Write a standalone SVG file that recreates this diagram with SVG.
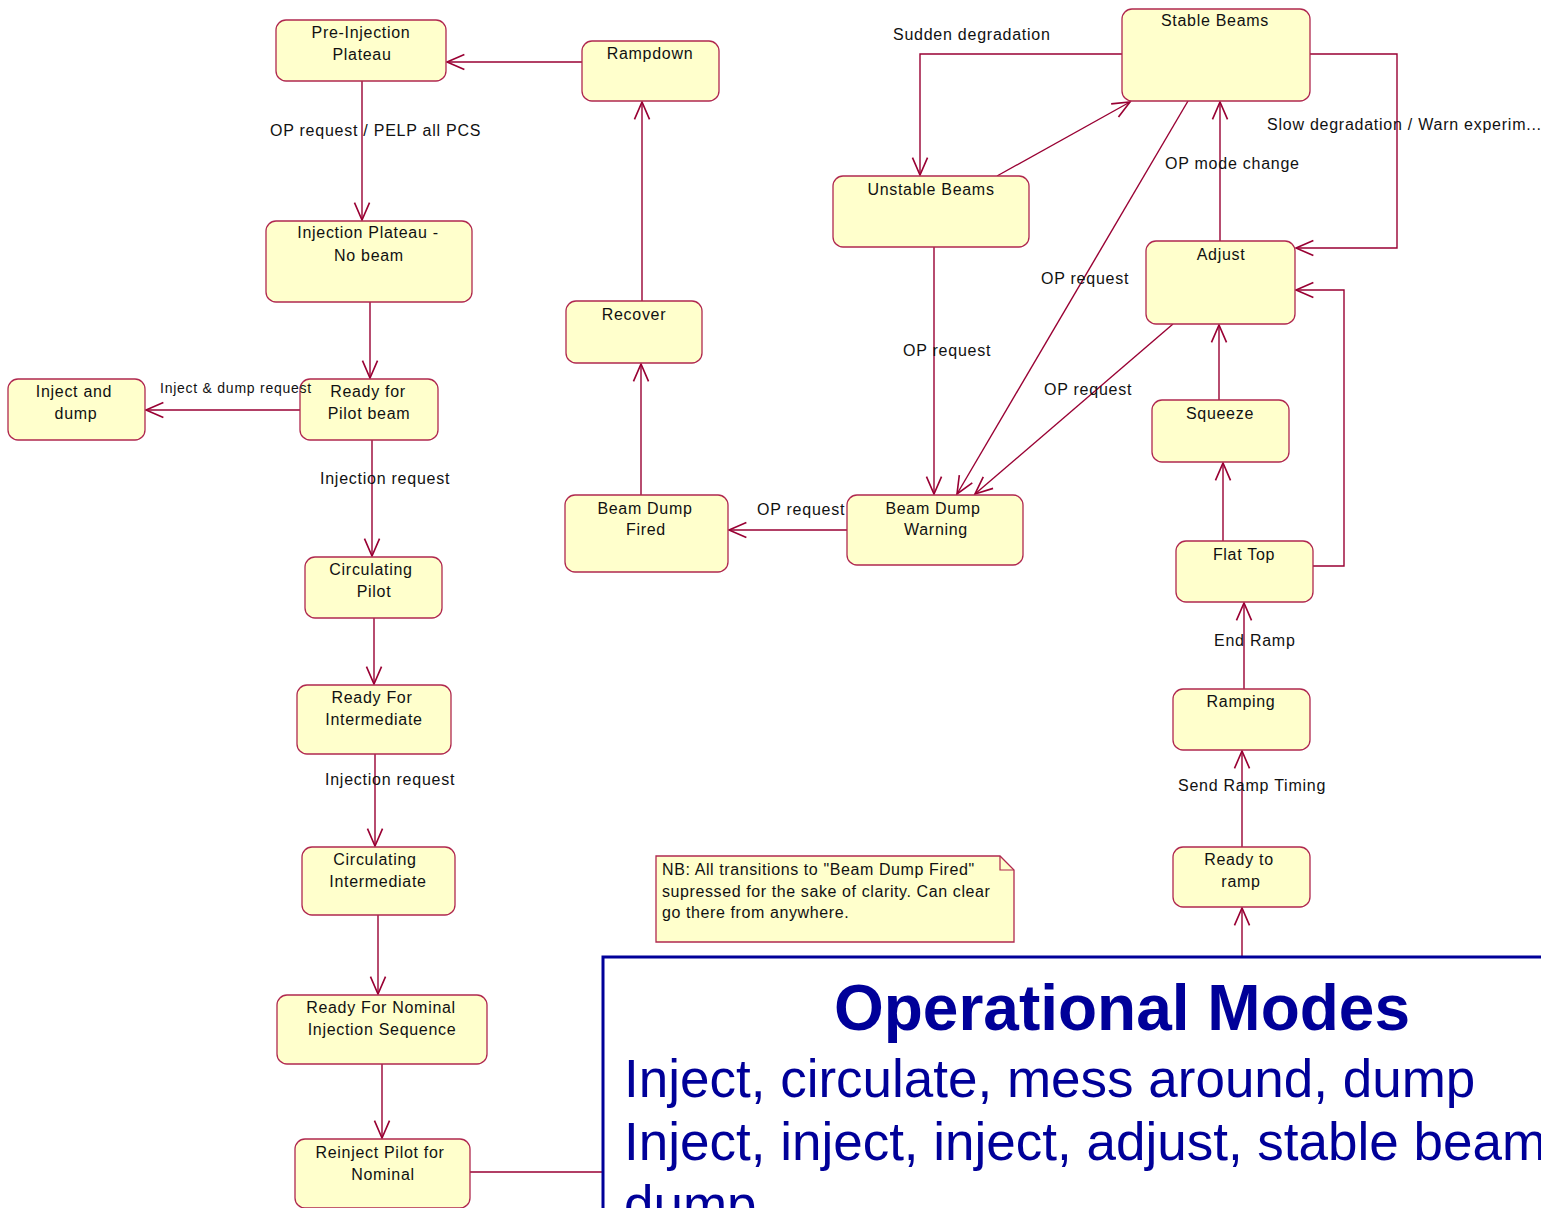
<svg xmlns="http://www.w3.org/2000/svg" width="1541" height="1208" viewBox="0 0 1541 1208">
<style>
.n rect{fill:#ffffcc;stroke:#b0284f;stroke-width:1.3}
.n text{font-family:"Liberation Sans",Arial,sans-serif;font-size:16px;fill:#111;text-anchor:middle;letter-spacing:0.7px}
.c path{fill:none;stroke:#990033;stroke-width:1.4}
.lb{font-family:"Liberation Sans",Arial,sans-serif;font-size:16px;fill:#111;letter-spacing:0.75px}
.sm{font-size:14px;letter-spacing:0.75px}
.note text{font-family:"Liberation Sans",Arial,sans-serif;font-size:16px;fill:#111;letter-spacing:0.6px}
.blue{font-family:"Liberation Sans",Arial,sans-serif;fill:#000099}
</style>
<defs>
<marker id="a" markerUnits="userSpaceOnUse" markerWidth="22" markerHeight="22" viewBox="-17 -9 19 18" refX="0" refY="0" orient="auto">
<path d="M-15,-6.5 L0,0 L-15,6.5" fill="none" stroke="#990033" stroke-width="1.4"/>
</marker>
</defs>
<rect width="1541" height="1208" fill="#ffffff"/>

<g id="connectors" class="c">
<path d="M582,62 H447" marker-end="url(#a)"/>
<path d="M362,81 V220" marker-end="url(#a)"/>
<path d="M370,302 V378" marker-end="url(#a)"/>
<path d="M300,410 H146" marker-end="url(#a)"/>
<path d="M372,440 V556" marker-end="url(#a)"/>
<path d="M374,618 V684" marker-end="url(#a)"/>
<path d="M375,754 V846" marker-end="url(#a)"/>
<path d="M378,915 V994" marker-end="url(#a)"/>
<path d="M382,1064 V1138" marker-end="url(#a)"/>
<path d="M470,1172 H1242 V908" marker-end="url(#a)"/>
<path d="M1242,847 V751" marker-end="url(#a)"/>
<path d="M1244,689 V603" marker-end="url(#a)"/>
<path d="M1223,541 V463" marker-end="url(#a)"/>
<path d="M1313,566 H1344 V290 H1296" marker-end="url(#a)"/>
<path d="M1219,400 V325" marker-end="url(#a)"/>
<path d="M1220,241 V102" marker-end="url(#a)"/>
<path d="M1310,54 H1397 V248 H1296" marker-end="url(#a)"/>
<path d="M1122,54 H920 V175" marker-end="url(#a)"/>
<path d="M997,176 L1130,102" marker-end="url(#a)"/>
<path d="M934,247 V494" marker-end="url(#a)"/>
<path d="M1188,101 L957,494" marker-end="url(#a)"/>
<path d="M1173,324 L975,494" marker-end="url(#a)"/>
<path d="M847,530 H729" marker-end="url(#a)"/>
<path d="M641,495 V364" marker-end="url(#a)"/>
<path d="M642,301 V102" marker-end="url(#a)"/>
</g>

<g id="pre-injection" class="n"><rect x="276" y="20" width="170" height="61" rx="10"/><text x="361" y="38">Pre-Injection</text><text x="362" y="60">Plateau</text></g>
<g id="rampdown" class="n"><rect x="582" y="41" width="137" height="60" rx="10"/><text x="650" y="59">Rampdown</text></g>
<g id="injection-plateau" class="n"><rect x="266" y="221" width="206" height="81" rx="10"/><text x="368" y="238">Injection Plateau -</text><text x="369" y="261">No beam</text></g>
<g id="recover" class="n"><rect x="566" y="301" width="136" height="62" rx="10"/><text x="634" y="320">Recover</text></g>
<g id="inject-dump" class="n"><rect x="8" y="379" width="137" height="61" rx="10"/><text x="74" y="397">Inject and</text><text x="76" y="419">dump</text></g>
<g id="ready-pilot" class="n"><rect x="300" y="379" width="138" height="61" rx="10"/><text x="368" y="397">Ready for</text><text x="369" y="419">Pilot beam</text></g>
<g id="beam-dump-fired" class="n"><rect x="565" y="495" width="163" height="77" rx="10"/><text x="645" y="514">Beam Dump</text><text x="646" y="535">Fired</text></g>
<g id="beam-dump-warning" class="n"><rect x="847" y="495" width="176" height="70" rx="10"/><text x="933" y="514">Beam Dump</text><text x="936" y="535">Warning</text></g>
<g id="circulating-pilot" class="n"><rect x="305" y="557" width="137" height="61" rx="10"/><text x="371" y="575">Circulating</text><text x="374" y="597">Pilot</text></g>
<g id="ready-intermediate" class="n"><rect x="297" y="685" width="154" height="69" rx="10"/><text x="372" y="703">Ready For</text><text x="374" y="725">Intermediate</text></g>
<g id="circulating-intermediate" class="n"><rect x="302" y="847" width="153" height="68" rx="10"/><text x="375" y="865">Circulating</text><text x="378" y="887">Intermediate</text></g>
<g id="ready-nominal" class="n"><rect x="277" y="995" width="210" height="69" rx="10"/><text x="381" y="1013">Ready For Nominal</text><text x="382" y="1035">Injection Sequence</text></g>
<g id="reinject-pilot" class="n"><rect x="295" y="1139" width="175" height="69" rx="10"/><text x="380" y="1158">Reinject Pilot for</text><text x="383" y="1180">Nominal</text></g>
<g id="stable-beams" class="n"><rect x="1122" y="9" width="188" height="92" rx="10"/><text x="1215" y="26">Stable Beams</text></g>
<g id="unstable-beams" class="n"><rect x="833" y="176" width="196" height="71" rx="10"/><text x="931" y="195">Unstable Beams</text></g>
<g id="adjust" class="n"><rect x="1146" y="241" width="149" height="83" rx="10"/><text x="1221" y="260">Adjust</text></g>
<g id="squeeze" class="n"><rect x="1152" y="400" width="137" height="62" rx="10"/><text x="1220" y="419">Squeeze</text></g>
<g id="flat-top" class="n"><rect x="1176" y="541" width="137" height="61" rx="10"/><text x="1244" y="560">Flat Top</text></g>
<g id="ramping" class="n"><rect x="1173" y="689" width="137" height="61" rx="10"/><text x="1241" y="707">Ramping</text></g>
<g id="ready-ramp" class="n"><rect x="1173" y="847" width="137" height="60" rx="10"/><text x="1239" y="865">Ready to</text><text x="1241" y="887">ramp</text></g>

<g id="labels">
<text class="lb" x="270" y="136">OP request / PELP all PCS</text>
<text class="lb sm" x="160" y="393">Inject &amp; dump request</text>
<text class="lb" x="320" y="484">Injection request</text>
<text class="lb" x="325" y="785">Injection request</text>
<text class="lb" x="893" y="40">Sudden degradation</text>
<text class="lb" x="1267" y="130">Slow degradation / Warn experim...</text>
<text class="lb" x="1165" y="169">OP mode change</text>
<text class="lb" x="1041" y="284">OP request</text>
<text class="lb" x="903" y="356">OP request</text>
<text class="lb" x="1044" y="395">OP request</text>
<text class="lb" x="757" y="515">OP request</text>
<text class="lb" x="1214" y="646">End Ramp</text>
<text class="lb" x="1178" y="791">Send Ramp Timing</text>
</g>

<g id="note" class="note">
<path d="M656,856 H1000 L1014,870 V942 H656 Z" fill="#ffffcc" stroke="#b0284f" stroke-width="1.3"/>
<path d="M1000,856 V870 H1014" fill="none" stroke="#b0284f" stroke-width="1.2"/>
<text x="662" y="875">NB: All transitions to "Beam Dump Fired"</text>
<text x="662" y="897">supressed for the sake of clarity. Can clear</text>
<text x="662" y="918">go there from anywhere.</text>
</g>

<g id="title-box">
<rect x="603" y="957" width="1000" height="300" fill="#ffffff" stroke="#000099" stroke-width="3"/>
<text class="blue" x="1122" y="1030" font-size="64" font-weight="bold" text-anchor="middle">Operational Modes</text>
<text class="blue" x="624" y="1097" font-size="53">Inject, circulate, mess around, dump</text>
<text class="blue" x="624" y="1160" font-size="53">Inject, inject, inject, adjust, stable beam</text>
<text class="blue" x="624" y="1223" font-size="53">dump</text>
</g>
</svg>
